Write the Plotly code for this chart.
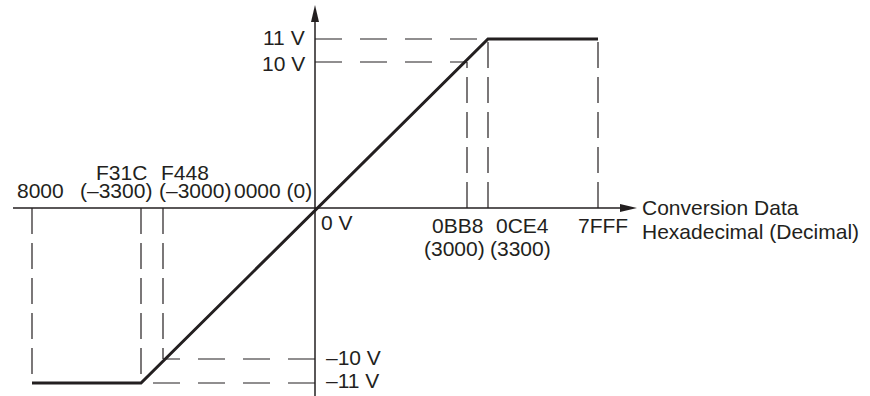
import plotly.graph_objects as go

# conversion data (hex codes) with decimal values, and their place along the drawn x axis
codes = ["8000", "F31C", "F448", "0000", "0BB8", "0CE4", "7FFF"]
decimals = ["", "(–3300)", "(–3000)", "(0)", "(3000)", "(3300)", ""]
code_x = [-283, -174, -152, 0, 152, 173, 283]

# analog output levels and their place along the drawn y axis
volt_labels = ["11 V", "10 V", "0 V", "–10 V", "–11 V"]
volt_y = [169, 146, 0, -151, -175]

# output characteristic (corner points as code -> level)
curve_codes = ["8000", "F31C", "0CE4", "7FFF"]
curve_levels = ["–11 V", "–11 V", "11 V", "11 V"]

# dashed guides
vguides = [("8000", "–11 V"), ("F31C", "–11 V"), ("F448", "–10 V"),
           ("0BB8", "10 V"), ("0CE4", "11 V"), ("7FFF", "11 V")]
hguides = [("11 V", "0CE4"), ("10 V", "0BB8"), ("–10 V", "F448"), ("–11 V", "F31C")]

X = dict(zip(codes, code_x))
Y = dict(zip(volt_labels, volt_y))
DEC = dict(zip(codes, decimals))

INK = "#231f20"
FONT = dict(family="Liberation Sans, Arial, sans-serif", size=21, color=INK)

fig = go.Figure()

for code, level in vguides:
    fig.add_trace(go.Scatter(
        x=[X[code], X[code]], y=[0, Y[level]], mode="lines",
        line=dict(color=INK, width=1.2, dash="26px,9px"),
        hoverinfo="skip", showlegend=False,
    ))
for level, code in hguides:
    fig.add_trace(go.Scatter(
        x=[0, X[code]], y=[Y[level], Y[level]], mode="lines",
        line=dict(color=INK, width=1.2, dash="27px,18px"),
        hoverinfo="skip", showlegend=False,
    ))

fig.add_trace(go.Scatter(
    x=[X[c] for c in curve_codes], y=[Y[v] for v in curve_levels], mode="lines",
    line=dict(color=INK, width=3),
    hoverinfo="skip", showlegend=False,
))

# axes with arrow heads
fig.add_shape(type="line", x0=-302, x1=312, y0=0, y1=0, line=dict(color=INK, width=1.5))
fig.add_shape(type="line", x0=0, x1=0, y0=-190, y1=195, line=dict(color=INK, width=1.5))
fig.add_shape(type="path", xsizemode="pixel", ysizemode="pixel", xanchor=322, yanchor=0,
              path="M0,0 L-17,4 L-17,-4 Z", fillcolor=INK, line=dict(width=0))
fig.add_shape(type="path", xsizemode="pixel", ysizemode="pixel", xanchor=0, yanchor=203,
              path="M0,0 L-4,-17 L4,-17 Z", fillcolor=INK, line=dict(width=0))

# code labels (x, y of hex line, x, y of decimal line)
code_label_pos = {
    "8000": (-275, 18, None, None),
    "F31C": (-194, 36, -199, 18),
    "F448": (-130, 36, -120, 18),
    "0BB8": (142, -17, 139, -40),
    "0CE4": (207, -17, 205, -40),
    "7FFF": (288, -17, None, None),
}
for code, (hx, hy, dx, dy) in code_label_pos.items():
    fig.add_annotation(x=hx, y=hy, text=code, showarrow=False, font=FONT)
    if dx is not None:
        fig.add_annotation(x=dx, y=dy, text=DEC[code], showarrow=False, font=FONT)
fig.add_annotation(x=-42, y=18, text=f"{codes[3]} {DEC['0000']}", showarrow=False, font=FONT)

volt_label_pos = {
    "11 V": (-8, 171, "right"),
    "10 V": (-8, 145, "right"),
    "0 V": (4, -14, "left"),
    "–10 V": (9, -149, "left"),
    "–11 V": (9, -172, "left"),
}
for level, (vx, vy, anchor) in volt_label_pos.items():
    fig.add_annotation(x=vx, y=vy, text=level, showarrow=False, xanchor=anchor, font=FONT)

fig.add_annotation(x=325, y=1, text="Conversion Data", showarrow=False, xanchor="left", font=FONT)
fig.add_annotation(x=325, y=-23, text="Hexadecimal (Decimal)", showarrow=False, xanchor="left", font=FONT)

fig.update_layout(
    width=870, height=396,
    margin=dict(l=0, r=0, t=0, b=0),
    plot_bgcolor="white", paper_bgcolor="white",
    xaxis=dict(range=[-315, 555], visible=False, fixedrange=True),
    yaxis=dict(range=[-188, 208], visible=False, fixedrange=True),
    showlegend=False,
)

fig.write_html("out.html", config={"displayModeBar": False},
               post_script="document.body.style.margin = '0px';")
